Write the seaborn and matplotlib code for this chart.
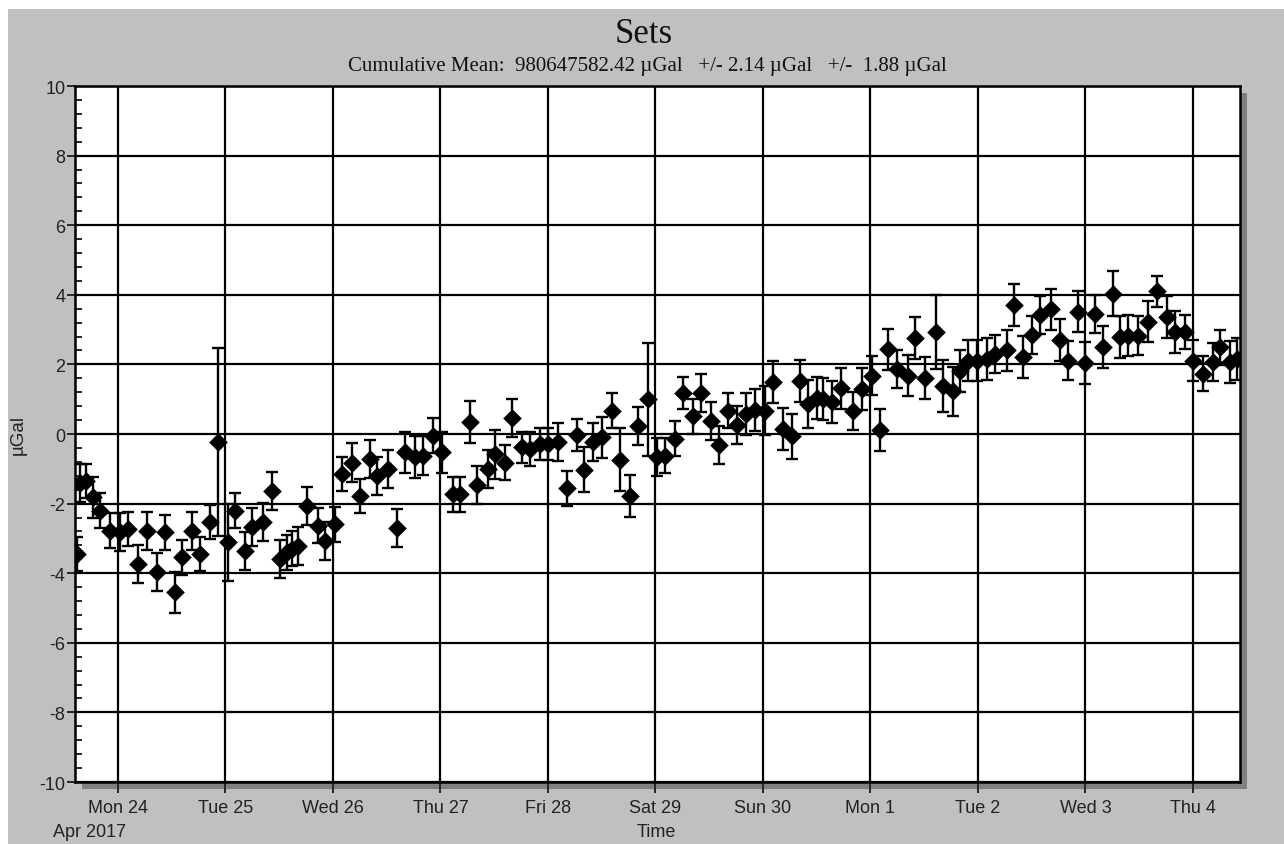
import numpy as np
import pandas as pd
import matplotlib
matplotlib.use("Agg")
import matplotlib.pyplot as plt
import matplotlib.dates as mdates
from matplotlib.patches import Rectangle
from matplotlib.ticker import MultipleLocator, FuncFormatter
import seaborn as sns

# ---- data (hours since 2017-04-24 00:00, value in µGal, error in µGal) ----
hours = [-9.22, -8.48, -7.14, -5.51, -4.02, -1.79, 0.45, 2.23, 4.47, 6.41,
         8.64, 10.49, 12.73, 14.22, 16.45, 18.31, 20.54, 22.26, 24.56, 26.12,
         28.35, 29.85, 32.37, 34.32, 36.17, 37.66, 38.78, 40.25, 42.13, 44.72,
         46.22, 48.45, 49.94, 52.18, 54.03, 56.26, 57.76, 60.35, 62.36, 64.08,
         66.31, 68.16, 70.39, 72.27, 74.86, 76.35, 78.59, 80.08, 82.67, 84.17,
         86.40, 87.90, 90.13, 91.98, 94.22, 96.07, 98.30, 100.18, 102.41, 104.04,
         106.12, 108.00, 110.36, 112.08, 114.31, 116.03, 118.40, 120.27, 122.12, 124.36,
         126.21, 128.44, 130.09, 132.33, 134.25, 136.26, 138.13, 140.21, 142.22, 144.45,
         146.31, 148.54, 150.41, 152.26, 153.98, 155.99, 157.46, 159.34, 161.42, 164.03,
         166.04, 168.27, 170.12, 171.98, 173.85, 176.44, 177.94, 180.17, 182.63, 184.12,
         186.49, 187.98, 189.84, 191.71, 193.94, 195.80, 198.41, 200.04, 202.12, 204.00,
         205.85, 208.23, 210.31, 212.16, 214.40, 215.89, 218.13, 219.84, 222.21, 223.71,
         225.56, 227.80, 230.03, 231.91, 234.14, 235.99, 238.22, 239.94, 242.17, 244.54,
         246.03, 248.26, 249.77]
values = [-3.45, -1.40, -1.35, -1.82, -2.20, -2.78, -2.82, -2.73, -3.74, -2.78,
          -3.96, -2.82, -4.55, -3.54, -2.78, -3.45, -2.53, -0.23, -3.11, -2.20,
          -3.36, -2.68, -2.53, -1.63, -3.60, -3.40, -3.30, -3.21, -2.06, -2.64,
          -3.07, -2.59, -1.15, -0.82, -1.78, -0.72, -1.20, -1.00, -2.71, -0.53,
          -0.67, -0.62, -0.05, -0.53, -1.73, -1.73, 0.35, -1.47, -1.00, -0.58,
          -0.82, 0.45, -0.38, -0.43, -0.29, -0.29, -0.24, -1.56, -0.03, -1.03,
          -0.24, -0.10, 0.67, -0.74, -1.78, 0.22, 1.00, -0.67, -0.62, -0.14,
          1.18, 0.51, 1.18, 0.38, -0.32, 0.67, 0.26, 0.58, 0.70, 0.67,
          1.50, 0.14, -0.07, 1.53, 0.86, 1.03, 1.00, 0.91, 1.31, 0.67,
          1.29, 1.68, 0.12, 2.43, 1.87, 1.68, 2.76, 1.61, 2.93, 1.37,
          1.23, 1.82, 2.11, 2.11, 2.16, 2.30, 2.40, 3.71, 2.21, 2.85,
          3.42, 3.58, 2.71, 2.11, 3.52, 2.04, 3.45, 2.49, 4.03, 2.78,
          2.83, 2.83, 3.23, 4.10, 3.36, 2.93, 2.93, 2.11, 1.73, 2.06,
          2.49, 2.06, 2.16]
errors = [0.50, 0.55, 0.50, 0.58, 0.50, 0.50, 0.55, 0.50, 0.55, 0.55,
          0.55, 0.50, 0.58, 0.50, 0.55, 0.50, 0.50, 2.70, 1.10, 0.50,
          0.55, 0.55, 0.55, 0.55, 0.55, 0.50, 0.50, 0.55, 0.55, 0.50,
          0.55, 0.50, 0.50, 0.55, 0.50, 0.55, 0.55, 0.55, 0.55, 0.60,
          0.60, 0.55, 0.50, 0.60, 0.50, 0.50, 0.60, 0.55, 0.55, 0.70,
          0.50, 0.55, 0.45, 0.50, 0.45, 0.45, 0.55, 0.50, 0.45, 0.65,
          0.55, 0.60, 0.50, 0.90, 0.60, 0.55, 1.62, 0.55, 0.50, 0.50,
          0.45, 0.50, 0.55, 0.55, 0.55, 0.50, 0.55, 0.60, 0.60, 0.70,
          0.60, 0.60, 0.65, 0.60, 0.70, 0.60, 0.60, 0.60, 0.60, 0.55,
          0.60, 0.55, 0.60, 0.60, 0.55, 0.60, 0.60, 0.60, 1.05, 0.75,
          0.70, 0.60, 0.60, 0.60, 0.60, 0.55, 0.60, 0.60, 0.60, 0.55,
          0.55, 0.60, 0.60, 0.55, 0.60, 0.60, 0.55, 0.60, 0.65, 0.60,
          0.60, 0.55, 0.60, 0.45, 0.60, 0.60, 0.50, 0.60, 0.50, 0.55,
          0.50, 0.60, 0.60]

title_text = "Sets"
subtitle_text = "Cumulative Mean:  980647582.42 µGal   +/- 2.14 µGal   +/-  1.88 µGal"
y_label = "µGal"
x_label = "Time"
first_month_label = "Apr 2017"
start_date = "2017-04-24"
x_range_hours = (-9.6, 250.5)
y_range = (-10, 10)

# ---- build ----
sns.set_style("white")
plt.rcParams["font.family"] = ["Liberation Sans", "DejaVu Sans"]
plt.rcParams["axes.unicode_minus"] = False

base = pd.Timestamp(start_date)
df = pd.DataFrame({
    "time": base + pd.to_timedelta(hours, unit="h"),
    "value": values,
    "err": errors,
})

W, H = 1284, 845
fig = plt.figure(figsize=(W / 100, H / 100), dpi=100, facecolor="#c0c0c0")

# white strips at top and left edge of the window
fig.patches.append(Rectangle((0, 1 - 10 / H), 1, 10 / H, transform=fig.transFigure,
                             facecolor="white", edgecolor="none", zorder=-3))
fig.patches.append(Rectangle((0, 0), 8 / W, 1, transform=fig.transFigure,
                             facecolor="white", edgecolor="none", zorder=-3))

L, R, T, B = 75, 1240, 87, 783
ax = fig.add_axes([L / W, 1 - B / H, (R - L) / W, (B - T) / H])
ax.set_facecolor("white")

# drop shadow
sh = 7
fig.patches.append(Rectangle(((L + sh) / W, 1 - (B + sh) / H), (R - L) / W, (B - T) / H,
                             transform=fig.transFigure, facecolor="#808080",
                             edgecolor="none", zorder=-1))

ax.errorbar(df["time"], df["value"], yerr=df["err"], fmt="none", ecolor="black",
            elinewidth=1.7, capsize=4.5, capthick=1.7, zorder=3)
sns.scatterplot(data=df, x="time", y="value", marker="D", s=90, color="black",
                edgecolor="black", linewidth=0, ax=ax, zorder=4, legend=False)

ax.set_xlim(base + pd.Timedelta(hours=x_range_hours[0]), base + pd.Timedelta(hours=x_range_hours[1]))
ax.set_ylim(*y_range)

ax.yaxis.set_major_locator(MultipleLocator(2))
ax.yaxis.set_minor_locator(MultipleLocator(0.4))
ax.xaxis.set_major_locator(mdates.DayLocator())


def day_fmt(x, pos):
    d = mdates.num2date(x)
    return f"{d:%a} {d.day}"


ax.xaxis.set_major_formatter(FuncFormatter(day_fmt))

ax.grid(True, which="major", color="black", linewidth=1.6)
ax.set_axisbelow(True)
for s in ax.spines.values():
    s.set_color("black")
    s.set_linewidth(1.8)

ax.tick_params(axis="y", which="major", direction="out", length=5.5, width=1.4,
               pad=1.5, labelsize=13, labelcolor="#222222", left=True)
ax.tick_params(axis="y", which="minor", direction="in", length=5, width=1.4, left=True)
ax.tick_params(axis="x", which="major", direction="out", length=8, width=1.4,
               pad=4, labelsize=13, labelcolor="#222222", bottom=True)

ax.set_xlabel("")
ax.set_ylabel(y_label, fontsize=13.5, color="#222222")
ax.yaxis.set_label_coords(-48 / (R - L), 0.5)

fig.text(656 / W, 1 - 833 / H, x_label, ha="center", va="center", fontsize=13, color="#222222")
fig.text(53 / W, 1 - 833 / H, first_month_label, ha="left", va="center", fontsize=13, color="#222222")

fig.text(644 / W, 1 - 43 / H, title_text, ha="center", va="baseline", fontsize=25,
         family=["Liberation Serif", "DejaVu Serif"], color="#111111")
fig.text(647 / W, 1 - 71 / H, subtitle_text, ha="center", va="baseline", fontsize=15,
         family=["Liberation Serif", "DejaVu Serif"], color="#111111")

fig.savefig("out.png", dpi=100, facecolor=fig.get_facecolor())
